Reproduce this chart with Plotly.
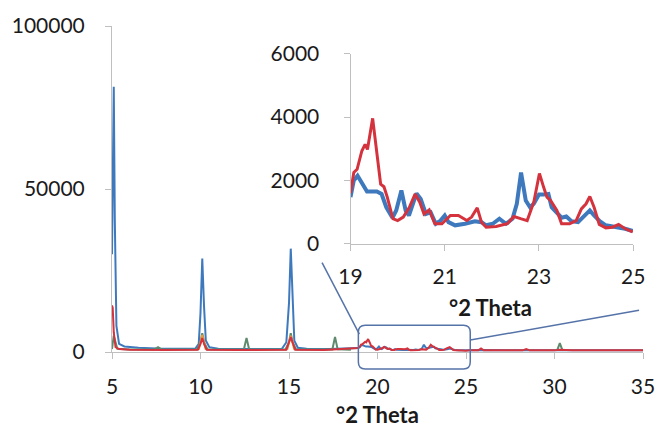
import plotly.graph_objects as go

# ---------------- data ----------------
# Full scan, 5-35 deg 2-theta (segments outside the zoomed window)
blue_lo_x = [5.0, 5.05, 5.1, 5.16, 5.25, 5.4, 5.7, 6.5, 7.5, 9.7, 9.9, 10.0, 10.1, 10.2, 10.3, 10.5,
             11.0, 12.4, 14.6, 14.85, 15.0, 15.1, 15.2, 15.3, 15.5, 16.0, 17.3, 18.9]
blue_lo_y = [30000, 70000, 81400, 40000, 8000, 2500, 1700, 1300, 1100, 1000, 2500, 12000, 28700, 14000,
             3500, 1500, 1000, 900, 1000, 3000, 15000, 31700, 15000, 3500, 1300, 1000, 900, 1200]
blue_hi_x = [25.2, 26, 27, 28, 29, 30, 31, 32, 33, 34, 35]
blue_hi_y = [500, 600, 500, 500, 500, 500, 500, 500, 500, 500, 500]

green_x = [5.0, 5.1, 5.3, 6, 7.4, 7.6, 7.8, 9.8, 10.0, 10.1, 10.2, 10.4, 12.45, 12.6, 12.75, 14.8, 15.0,
           15.1, 15.2, 15.4, 17.45, 17.6, 17.75, 18.5, None, 30.15, 30.3, 30.45]
green_y = [900, 5000, 1000, 800, 800, 1500, 800, 800, 3000, 5800, 3000, 800, 800, 4300, 800, 800, 3000,
           5800, 3000, 800, 800, 4600, 800, 700, None, 500, 2700, 500]

orange_x = [9.9, 10.1, 10.3, None, 14.9, 15.1, 15.3]
orange_y = [700, 5200, 700, None, 700, 5000, 700]

red_lo_x = [5.0, 5.04, 5.1, 5.2, 5.4, 6, 8, 9.85, 10.0, 10.1, 10.2, 10.35, 12, 14.85, 15.0, 15.1, 15.2,
            15.35, 17, 18.9]
red_lo_y = [14300, 13500, 6000, 1500, 900, 700, 600, 700, 2500, 4300, 2500, 700, 600, 700, 3000, 4600,
            3000, 700, 600, 1200]
red_hi_x = [25.2, 25.7, 25.85, 26.0, 27, 28.2, 28.4, 28.6, 30, 30.3, 31, 35]
red_hi_y = [500, 500, 1100, 500, 500, 500, 900, 500, 500, 700, 500, 500]

# Zoomed window, 19-25 deg 2-theta
zoom_blue_x = [19.0, 19.07, 19.15, 19.24, 19.35, 19.45, 19.56, 19.66, 19.76, 19.89, 19.97, 20.08, 20.17,
               20.24, 20.32, 20.40, 20.49, 20.6, 20.70, 20.81, 20.91, 21.0, 21.08, 21.22, 21.43, 21.64,
               21.78, 21.88, 22.02, 22.16, 22.30, 22.44, 22.53, 22.62, 22.72, 22.81, 22.89, 23.0, 23.10,
               23.2, 23.27, 23.38, 23.48, 23.58, 23.69, 23.83, 23.94, 24.08, 24.17, 24.29, 24.42, 24.56,
               24.69, 24.83, 24.99]
zoom_blue_y = [1470, 2000, 2150, 1900, 1650, 1650, 1650, 1570, 1150, 820, 1050, 1680, 1050, 890, 1260,
               1590, 1410, 940, 990, 630, 730, 890, 680, 580, 630, 710, 680, 580, 630, 790, 630, 790, 1260,
               2250, 1360, 1150, 1260, 1550, 1550, 1570, 1150, 990, 820, 860, 710, 680, 840, 1050, 890,
               710, 580, 540, 520, 470, 400]
zoom_red_x = [19.0, 19.07, 19.14, 19.24, 19.31, 19.36, 19.47, 19.56, 19.64, 19.71, 19.78, 19.90, 20.0,
              20.12, 20.25, 20.37, 20.47, 20.56, 20.67, 20.79, 20.94, 21.12, 21.29, 21.47, 21.57, 21.69,
              21.78, 21.88, 22.09, 22.33, 22.47, 22.61, 22.75, 22.89, 23.01, 23.10, 23.17, 23.25, 23.38,
              23.48, 23.65, 23.79, 23.90, 24.0, 24.08, 24.17, 24.28, 24.42, 24.56, 24.69, 24.83, 24.99]
zoom_red_y = [1600, 2250, 2350, 2930, 3140, 2980, 3960, 2930, 1880, 1800, 1470, 790, 730, 840, 1150, 1570,
              1310, 940, 1070, 630, 630, 890, 890, 730, 840, 1130, 680, 520, 540, 630, 860, 790, 730, 1310,
              2220, 1780, 1470, 1360, 1050, 630, 630, 730, 1100, 1260, 1490, 1150, 610, 500, 520, 610, 470,
              370]

main_yticks = [0, 50000, 100000]
main_xticks = [5, 10, 15, 20, 25, 30, 35]
zoom_yticks = [0, 2000, 4000, 6000]
zoom_xticks = [19, 21, 23, 25]
axis_title = "°2 Theta"

BLUE = "#3f79bd"
RED = "#d4333d"
GREEN = "#5f8a6e"
ORANGE = "#ee9a3a"
FONT = dict(family="Lato, 'Open Sans', sans-serif", size=21, color="#1a1a1a")

# ---------------- figure ----------------
W, H = 667, 430
L, R, T, B = 110, 16, 24, 78
PW, PH = W - L - R, H - T - B


def px(x):
    return (x - L) / PW


def py(y):
    return (H - B - y) / PH


fig = go.Figure()

blue_x = blue_lo_x + zoom_blue_x + blue_hi_x
blue_y = blue_lo_y + zoom_blue_y + blue_hi_y
red_x = red_lo_x + zoom_red_x + red_hi_x
red_y = red_lo_y + zoom_red_y + red_hi_y

fig.add_trace(go.Scatter(x=blue_x, y=blue_y, mode="lines", line=dict(color=BLUE, width=2),
                         xaxis="x", yaxis="y"))
fig.add_trace(go.Scatter(x=green_x, y=green_y, mode="lines", line=dict(color=GREEN, width=2),
                         xaxis="x", yaxis="y", connectgaps=False))
fig.add_trace(go.Scatter(x=orange_x, y=orange_y, mode="lines", line=dict(color=ORANGE, width=2),
                         xaxis="x", yaxis="y", connectgaps=False))
fig.add_trace(go.Scatter(x=red_x, y=red_y, mode="lines", line=dict(color=RED, width=2),
                         xaxis="x", yaxis="y"))

# inset
fig.add_trace(go.Scatter(x=zoom_blue_x, y=zoom_blue_y, mode="lines", line=dict(color=BLUE, width=4),
                         xaxis="x2", yaxis="y2"))
fig.add_trace(go.Scatter(x=zoom_red_x, y=zoom_red_y, mode="lines", line=dict(color=RED, width=3),
                         xaxis="x2", yaxis="y2"))

axis_common = dict(showgrid=False, zeroline=False, showline=True, linecolor="#bfbfbf", linewidth=1,
                   ticks="outside", ticklen=6, tickcolor="#bfbfbf", tickfont=FONT, fixedrange=True)

fig.update_layout(
    width=W, height=H,
    margin=dict(l=L, r=R, t=T, b=B),
    paper_bgcolor="white", plot_bgcolor="rgba(0,0,0,0)",
    showlegend=False,
    xaxis=dict(domain=[0, 1], range=[5, 35], tickvals=main_xticks,
               ticktext=[str(v) for v in main_xticks], ticklabelstandoff=10, **axis_common),
    yaxis=dict(domain=[0, 1], range=[0, 100000], tickvals=main_yticks,
               ticktext=[str(v) for v in main_yticks], ticklabelstandoff=16, **axis_common),
    xaxis2=dict(domain=[px(353), px(641)], range=[19, 25], anchor="y2", tickvals=zoom_xticks,
                ticktext=[str(v) for v in zoom_xticks], ticklabelstandoff=8, **axis_common),
    yaxis2=dict(domain=[py(243), py(52)], range=[0, 6000], anchor="x2", tickvals=zoom_yticks,
                ticktext=[str(v) for v in zoom_yticks], ticklabelstandoff=20, **axis_common),
)

title_font = dict(family=FONT["family"], size=22, color="#1a1a1a", weight="bold")
fig.add_annotation(text=axis_title, xref="paper", yref="paper", x=px(380), y=py(415),
                   showarrow=False, font=title_font, xanchor="center", yanchor="middle")
fig.add_annotation(text=axis_title, xref="paper", yref="paper", x=px(496), y=py(307),
                   showarrow=False, font=title_font, xanchor="center", yanchor="middle")

# zoom box with rounded corners and connector lines
x0, x1, y0, y1 = px(361), px(475), py(369), py(325)
rx, ry = 7 / PW, 7 / PH
box = (f"M {x0 + rx},{y1} L {x1 - rx},{y1} Q {x1},{y1} {x1},{y1 - ry} "
       f"L {x1},{y0 + ry} Q {x1},{y0} {x1 - rx},{y0} L {x0 + rx},{y0} Q {x0},{y0} {x0},{y0 + ry} "
       f"L {x0},{y1 - ry} Q {x0},{y1} {x0 + rx},{y1} Z")
LINE = dict(color="#5573a8", width=1.5)
fig.add_shape(type="path", path=box, xref="paper", yref="paper", line=LINE)
fig.add_shape(type="line", xref="paper", yref="paper", x0=px(324), y0=py(262), x1=px(362), y1=py(334),
              line=LINE)
fig.add_shape(type="line", xref="paper", yref="paper", x0=px(475), y0=py(340), x1=px(647), y1=py(310),
              line=LINE)

fig.write_html("out.html")
